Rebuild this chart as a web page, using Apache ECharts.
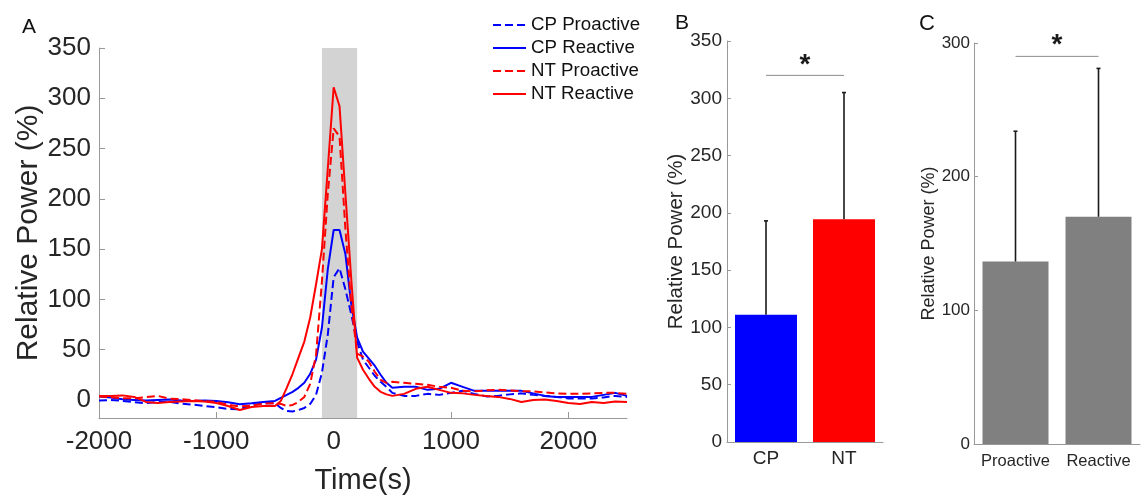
<!DOCTYPE html>
<html>
<head>
<meta charset="utf-8">
<script src="https://cdn.jsdelivr.net/npm/echarts@6/dist/echarts.min.js"></script>
<style>
html,body{margin:0;padding:0;background:#fff;}
#chart{width:1141px;height:497px;}
</style>
</head>
<body>
<div id="chart"></div>
<script>
// ---------- Panel A data ----------
const times = [-2000,-1900,-1800,-1700,-1600,-1500,-1400,-1300,-1200,-1100,-1000,-900,-800,-700,-600,-500,
  -450,-400,-350,-300,-250,-200,-150,-100,-50,0,50,100,150,200,250,300,350,400,450,500,
  600,700,800,900,1000,1100,1200,1300,1400,1500,1600,1700,1800,1900,2000,2100,2200,2300,2400,2500];
const cpProactive = [-0.7,0,-1,-2.3,-3.3,-2,-2,-3.7,-4.7,-6,-7.3,-9,-9.3,-5.3,-3.3,-3.3,
  -8,-11,-11.5,-10,-8,-4,5,27,65,122,131,110,85,58,40,32,24,18,13,7,
  4,4,6,5,7,9,6,3.5,4,5.5,6.5,5,4,3,1.5,1.5,1.5,2.5,4,3];
const cpReactive = [3.3,2.3,0.7,0,-0.7,0,0.3,-0.7,-1,-0.7,-1,-2.3,-4.3,-3.3,-2,-1,
  2,5,8,12,17,26,40,72,130,169,169,145,95,62,48,41,34,25,17,12,
  13,13,10,11,17,13,9,9,9,9,9,6.5,4,3,3,3,3,5,7,4];
const ntProactive = [3.3,2.7,1.7,1.7,2.7,4,1.3,0.7,-0.3,-1.3,-2,-4.7,-6.6,-5.6,-3.7,-3.3,
  -4,-6,-5,-2,3,16,45,118,205,270,262,170,95,46,43,38,28,20,17,18,
  17,16,15,13,12,9,8.5,9.5,10,9.5,8.5,8.5,7.5,6.5,6,6,6.5,7,7,6];
const ntReactive = [4,4,4.5,3,-2,-3,-2,-1.5,-1,-1.5,-3,-6,-10,-7,-6,-6,
  -1,12,26,42,58,82,115,150,230,311,292,205,120,42,30,21,13,8,5.5,4,
  6,11,13,10,7,6.5,5,4,3,1,-2,0,0.5,-1,-3,-4,-2,-3,-1.5,-2];
const shadeWindow = [-100, 200];
const seriesNames = ['CP Proactive','CP Reactive','NT Proactive','NT Reactive'];

// ---------- Panel B data ----------
const groupCats = ['CP','NT'];
const groupMeans = [111, 194.5];
const groupUpper = [193, 305];
const groupSig = 320;

// ---------- Panel C data ----------
const condCats = ['Proactive','Reactive'];
const condMeans = [136.5, 170];
const condUpper = [234, 281];
const condSig = 290;

const FONT = 'Liberation Sans, Arial, Helvetica, sans-serif';
const TXT = '#262626';
const AX = '#999999';
const BLUE = '#0000ff', RED = '#ff0000', GRAY = '#808080';

function pairs(vals){ return times.map((t,i)=>[t, vals[i]]); }

function errRender(params, api){
  const x = api.value(0);
  const p0 = api.coord([x, api.value(1)]);
  const p1 = api.coord([x, api.value(2)]);
  const st = {stroke:'#1a1a1a', lineWidth:1.6};
  return {type:'group', children:[
    {type:'line', shape:{x1:p0[0], y1:p0[1], x2:p1[0], y2:p1[1]}, style:st},
    {type:'line', shape:{x1:p1[0]-2, y1:p1[1], x2:p1[0]+2, y2:p1[1]}, style:st}
  ]};
}
function sigRender(starOffset){
  return function(params, api){
    const a = api.coord([api.value(0), api.value(2)]);
    const b = api.coord([api.value(1), api.value(2)]);
    return {type:'group', children:[
      {type:'line', shape:{x1:a[0], y1:a[1], x2:b[0], y2:b[1]}, style:{stroke:'#8c8c8c', lineWidth:1}},
      {type:'text', style:{text:'*', x:(a[0]+b[0])/2, y:a[1]-starOffset, align:'center', verticalAlign:'middle',
        font:'bold 28px ' + FONT, fill:'#1a1a1a'}}
    ]};
  };
}

const axisLineStyle = {onZero:false, lineStyle:{color:AX, width:1}};

const option = {
  animation:false,
  backgroundColor:'#fff',
  textStyle:{fontFamily:FONT},
  title:[
    {text:'A', left:17, top:12, textStyle:{fontSize:21, fontWeight:'normal', color:'#111', fontFamily:FONT}},
    {text:'B', left:670, top:8, textStyle:{fontSize:21, fontWeight:'normal', color:'#111', fontFamily:FONT}},
    {text:'C', left:914, top:8, textStyle:{fontSize:22, fontWeight:'normal', color:'#111', fontFamily:FONT}}
  ],
  legend:{
    data:seriesNames, orient:'vertical', left:487, top:10,
    itemWidth:33, itemHeight:14, itemGap:3,
    itemStyle:{opacity:0},
    textStyle:{fontSize:18.7, color:'#111', fontFamily:FONT, lineHeight:20}
  },
  grid:[
    {left:99, top:48, width:528, height:370, outerBoundsMode:'none'},
    {left:727, top:41, width:156, height:401, outerBoundsMode:'none'},
    {left:974, top:43, width:166, height:401, outerBoundsMode:'none'}
  ],
  xAxis:[
    {gridIndex:0, type:'value', min:-2000, max:2500, interval:1000,
      axisLine:axisLineStyle, axisTick:{inside:true, length:6, lineStyle:{color:AX}}, splitLine:{show:false},
      axisLabel:{fontSize:26, color:TXT, margin:11, showMaxLabel:false, fontFamily:FONT, formatter:(v)=>String(v)},
      name:'Time(s)', nameLocation:'middle', nameGap:48, nameTextStyle:{fontSize:29, color:TXT, fontFamily:FONT}},
    {gridIndex:1, type:'category', data:groupCats,
      axisLine:axisLineStyle, axisTick:{show:false},
      axisLabel:{fontSize:19, color:TXT, margin:7, interval:0, fontFamily:FONT}},
    {gridIndex:2, type:'category', data:condCats,
      axisLine:axisLineStyle, axisTick:{show:false},
      axisLabel:{fontSize:16.5, color:TXT, margin:9, interval:0, hideOverlap:false, fontFamily:FONT}}
  ],
  yAxis:[
    {gridIndex:0, type:'value', min:-18, max:350, splitNumber:7,
      axisLine:{show:true, onZero:false, lineStyle:{color:AX}}, axisTick:{show:true, inside:true, length:6, lineStyle:{color:AX}},
      splitLine:{show:false},
      axisLabel:{fontSize:26, color:TXT, margin:8, showMinLabel:false, fontFamily:FONT},
      name:'Relative Power (%)', nameLocation:'middle', nameRotate:90, nameGap:55,
      nameTextStyle:{fontSize:30, color:TXT, fontFamily:FONT}},
    {gridIndex:1, type:'value', min:0, max:350, interval:50,
      axisLine:{show:true, onZero:false, lineStyle:{color:AX}}, axisTick:{show:true, inside:true, length:4, lineStyle:{color:AX}},
      splitLine:{show:false},
      axisLabel:{fontSize:19, color:TXT, margin:5, fontFamily:FONT},
      name:'Relative Power (%)', nameLocation:'middle', nameRotate:90, nameGap:40,
      nameTextStyle:{fontSize:20.5, color:TXT, fontFamily:FONT}},
    {gridIndex:2, type:'value', min:0, max:300, interval:100,
      axisLine:{show:true, onZero:false, lineStyle:{color:AX}}, axisTick:{show:true, inside:true, length:4, lineStyle:{color:AX}},
      splitLine:{show:false},
      axisLabel:{fontSize:17, color:TXT, margin:4, fontFamily:FONT},
      name:'Relative Power (%)', nameLocation:'middle', nameRotate:90, nameGap:35,
      nameTextStyle:{fontSize:18, color:TXT, fontFamily:FONT}}
  ],
  series:[
    {type:'line', name:'shade', xAxisIndex:0, yAxisIndex:0, data:[], z:1, silent:true,
      markArea:{silent:true, itemStyle:{color:'#d3d3d3'}, data:[[{xAxis:shadeWindow[0]},{xAxis:shadeWindow[1]}]]}},
    {type:'line', name:seriesNames[0], xAxisIndex:0, yAxisIndex:0, data:pairs(cpProactive), symbol:'none', z:3,
      lineStyle:{color:BLUE, width:2, type:[8,4]}, itemStyle:{color:BLUE}},
    {type:'line', name:seriesNames[1], xAxisIndex:0, yAxisIndex:0, data:pairs(cpReactive), symbol:'none', z:3,
      lineStyle:{color:BLUE, width:2}, itemStyle:{color:BLUE}},
    {type:'line', name:seriesNames[2], xAxisIndex:0, yAxisIndex:0, data:pairs(ntProactive), symbol:'none', z:3,
      lineStyle:{color:RED, width:2, type:[8,4]}, itemStyle:{color:RED}},
    {type:'line', name:seriesNames[3], xAxisIndex:0, yAxisIndex:0, data:pairs(ntReactive), symbol:'none', z:3,
      lineStyle:{color:RED, width:2}, itemStyle:{color:RED}},
    // Panel B
    {type:'bar', xAxisIndex:1, yAxisIndex:1, barWidth:62,
      data:groupMeans.map((v,i)=>({value:v, itemStyle:{color: i===0?BLUE:RED}}))},
    {type:'custom', xAxisIndex:1, yAxisIndex:1, renderItem:errRender, z:5,
      data:groupMeans.map((v,i)=>[i, v, groupUpper[i]])},
    {type:'custom', xAxisIndex:1, yAxisIndex:1, renderItem:sigRender(10), z:5,
      data:[[0, 1, groupSig]]},
    // Panel C
    {type:'bar', xAxisIndex:2, yAxisIndex:2, barWidth:66, itemStyle:{color:GRAY},
      data:condMeans},
    {type:'custom', xAxisIndex:2, yAxisIndex:2, renderItem:errRender, z:5,
      data:condMeans.map((v,i)=>[i, v, condUpper[i]])},
    {type:'custom', xAxisIndex:2, yAxisIndex:2, renderItem:sigRender(11), z:5,
      data:[[0, 1, condSig]]}
  ]
};
const chart = echarts.init(document.getElementById('chart'), null, {renderer:'canvas'});
chart.setOption(option);
</script>
</body>
</html>
